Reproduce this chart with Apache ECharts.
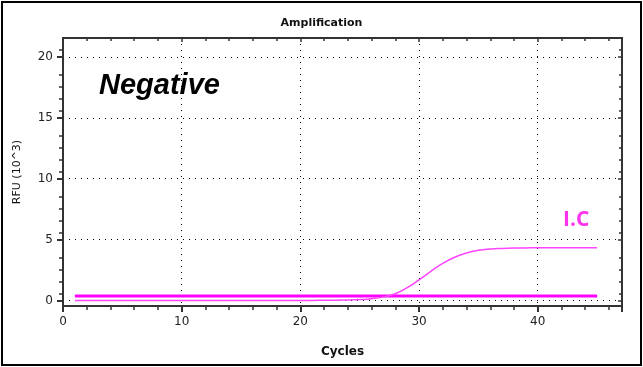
<!DOCTYPE html>
<html><head><meta charset="utf-8">
<script src="https://cdn.jsdelivr.net/npm/echarts@6/dist/echarts.min.js"></script>
<style>html,body{margin:0;padding:0;background:#fff}#c{width:643px;height:367px;position:relative}
#frame{position:absolute;left:1px;top:1px;width:637px;height:361px;border:2px solid #000;pointer-events:none}</style>
</head><body><div id="c"></div><div id="frame"></div>
<script>
const cycles = [1,2,3,4,5,6,7,8,9,10,11,12,13,14,15,16,17,18,19,20,21,22,23,24,25,26,27,28,29,30,31,32,33,34,35,36,37,38,39,40,41,42,43,44,45];
const icCurve = [0,0,0,0,0,0,0,0,0,0,0,0,0,0,0,0,0,0,0,0,0.01,0.02,0.03,0.05,0.08,0.15,0.3,0.55,1.05,1.7,2.4,3.05,3.55,3.9,4.12,4.23,4.28,4.31,4.32,4.33,4.33,4.33,4.33,4.33,4.33];
const flatLine = [0.38,0.38,0.38,0.38,0.38,0.38,0.38,0.38,0.38,0.38,0.38,0.38,0.38,0.38,0.38,0.38,0.38,0.38,0.38,0.38,0.38,0.38,0.38,0.38,0.38,0.38,0.38,0.38,0.38,0.38,0.38,0.38,0.38,0.38,0.38,0.38,0.38,0.38,0.38,0.38,0.38,0.38,0.38,0.38,0.38];
const xTicks = [0,10,20,30,40];
const yTicks = [0,5,10,15,20];

const chart = echarts.init(document.getElementById('c'));
const axisLine = {show:true,onZero:false,lineStyle:{color:'#333',width:2}};
const split = {show:true,lineStyle:{color:'#000',type:[1,5],width:1}};
chart.setOption({
  animation:false,
  title:{text:'Amplification',left:'center',top:13,textStyle:{fontFamily:'DejaVu Sans',fontSize:11,fontWeight:'bold',color:'#111'}},
  grid:{left:63,right:21,top:38,bottom:61},
  xAxis:[{type:'value',min:0,max:47.1,interval:10,position:'bottom',
    name:'Cycles',nameLocation:'middle',nameGap:40,nameTextStyle:{fontFamily:'DejaVu Sans',fontSize:12,fontWeight:'bold',color:'#111'},
    axisLine:axisLine,axisTick:{show:true,length:6,lineStyle:{color:'#333',width:2}},
    minorTick:{show:true,splitNumber:5,length:4,lineStyle:{color:'#333',width:1.5}},
    axisLabel:{fontFamily:'DejaVu Sans',fontSize:12,color:'#222',margin:10,formatter:v=>xTicks.includes(v)?String(v):''},
    splitLine:split},
   {type:'value',min:0,max:47.1,interval:10,position:'top',axisLine:axisLine,
    axisTick:{show:true,inside:true,length:4,lineStyle:{color:'#333',width:1.5}},
    minorTick:{show:true,splitNumber:5,length:3,lineStyle:{color:'#333',width:1.5}},
    axisLabel:{show:false},splitLine:{show:false}}],
  yAxis:[{type:'value',min:-0.45,max:21.55,interval:5,position:'left',
    name:'RFU (10^3)',nameLocation:'middle',nameGap:40,nameTextStyle:{fontFamily:'DejaVu Sans',fontSize:11,color:'#111'},
    axisLine:axisLine,axisTick:{show:true,length:6,lineStyle:{color:'#333',width:2},customValues:yTicks},
    minorTick:{show:true,splitNumber:5,length:4,lineStyle:{color:'#333',width:1.5}},
    axisLabel:{fontFamily:'DejaVu Sans',fontSize:12,color:'#222',margin:10,customValues:yTicks},
    splitLine:split},
   {type:'value',min:-0.45,max:21.55,interval:5,position:'right',axisLine:axisLine,
    axisTick:{show:true,inside:true,length:4,lineStyle:{color:'#333',width:1.5},customValues:yTicks},
    minorTick:{show:true,splitNumber:5,length:3,lineStyle:{color:'#333',width:1.5}},
    axisLabel:{show:false},splitLine:{show:false}}],
  series:[
    {type:'line',data:cycles.map((c,i)=>[c,icCurve[i]]),smooth:true,symbol:'none',lineStyle:{color:'#ff44ff',width:1.5},z:3},
    {type:'line',data:cycles.map((c,i)=>[c,flatLine[i]]),symbol:'none',lineStyle:{color:'#ff00ff',width:3},z:2}
  ],
  graphic:[
    {type:'text',left:99,top:71,style:{text:'Negative',font:'italic bold 29px "Liberation Sans"',fill:'#000'}},
    {type:'text',left:563,top:210,style:{text:'I.C',font:'bold 21px "Open Sans"',fill:'#ff33ee'}}
  ]
});
</script></body></html>
